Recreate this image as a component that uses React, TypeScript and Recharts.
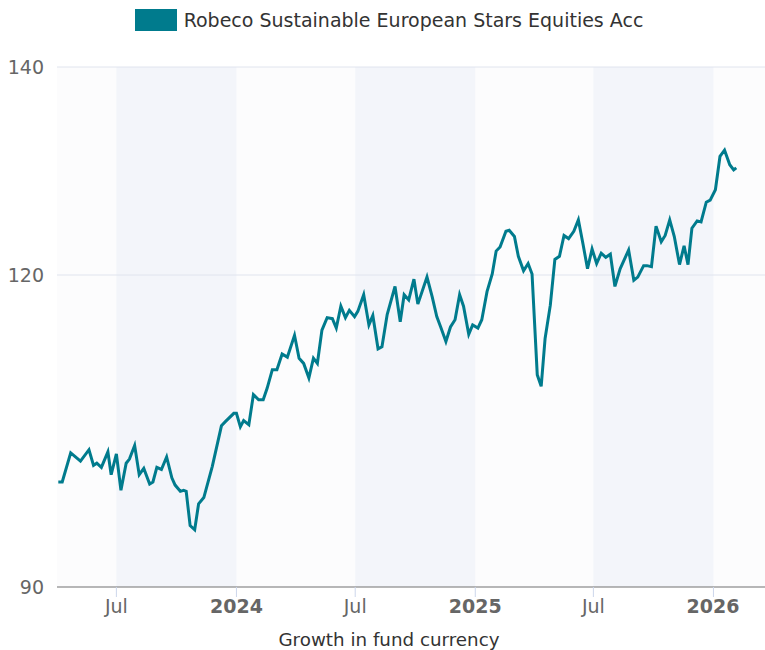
import {
  LineChart,
  Line,
  XAxis,
  YAxis,
  ReferenceArea,
  ReferenceLine,
  CartesianGrid,
  Legend,
} from "recharts";

const fundName = "Robeco Sustainable European Stars Equities Acc";

const dates = [
  "2023-04-03", "2023-04-09", "2023-04-22", "2023-05-07", "2023-05-20", "2023-05-27",
  "2023-06-01", "2023-06-08", "2023-06-18", "2023-06-23", "2023-07-01", "2023-07-08",
  "2023-07-16", "2023-07-21", "2023-07-29", "2023-08-05", "2023-08-12", "2023-08-21",
  "2023-08-26", "2023-09-01", "2023-09-08", "2023-09-16", "2023-09-24", "2023-09-29",
  "2023-10-07", "2023-10-12", "2023-10-16", "2023-10-22", "2023-10-29", "2023-11-04",
  "2023-11-12", "2023-11-25", "2023-12-09", "2023-12-15", "2023-12-28", "2024-01-01",
  "2024-01-07", "2024-01-12", "2024-01-20", "2024-01-27", "2024-02-04", "2024-02-11",
  "2024-02-17", "2024-02-25", "2024-03-03", "2024-03-11", "2024-03-19", "2024-03-30",
  "2024-04-06", "2024-04-13", "2024-04-21", "2024-04-28", "2024-05-04", "2024-05-11",
  "2024-05-19", "2024-05-27", "2024-06-02", "2024-06-09", "2024-06-16", "2024-06-22",
  "2024-06-30", "2024-07-05", "2024-07-14", "2024-07-22", "2024-07-28", "2024-08-05",
  "2024-08-11", "2024-08-19", "2024-08-31", "2024-09-08", "2024-09-14", "2024-09-21",
  "2024-09-29", "2024-10-05", "2024-10-19", "2024-10-27", "2024-11-03", "2024-11-09",
  "2024-11-17", "2024-11-24", "2024-12-01", "2024-12-08", "2024-12-14", "2024-12-22",
  "2024-12-28", "2025-01-05", "2025-01-11", "2025-01-19", "2025-01-27", "2025-02-02",
  "2025-02-08", "2025-02-17", "2025-02-22", "2025-03-02", "2025-03-08", "2025-03-16",
  "2025-03-23", "2025-03-29", "2025-04-06", "2025-04-12", "2025-04-18", "2025-04-26",
  "2025-05-03", "2025-05-10", "2025-05-17", "2025-05-24", "2025-06-01", "2025-06-08",
  "2025-06-15", "2025-06-22", "2025-06-29", "2025-07-06", "2025-07-13", "2025-07-20",
  "2025-07-27", "2025-08-03", "2025-08-11", "2025-08-24", "2025-09-01", "2025-09-07",
  "2025-09-16", "2025-09-21", "2025-09-28", "2025-10-05", "2025-10-13", "2025-10-19",
  "2025-10-26", "2025-11-02", "2025-11-10", "2025-11-17", "2025-11-23", "2025-11-29",
  "2025-12-07", "2025-12-13", "2025-12-21", "2025-12-27", "2026-01-04", "2026-01-11",
  "2026-01-18", "2026-01-26", "2026-02-01", "2026-02-05",
];

const growth = [
  100.1, 100.1, 102.9, 102.1, 103.2, 101.7,
  101.9, 101.5, 103.0, 100.8, 102.8, 99.3,
  101.9, 102.3, 103.6, 100.8, 101.4, 99.9,
  100.1, 101.5, 101.3, 102.5, 100.5, 99.8,
  99.2, 99.3, 99.2, 95.9, 95.5, 98.0,
  98.6, 101.6, 105.5, 105.9, 106.7, 106.7,
  105.4, 106.0, 105.6, 108.5, 108.0, 108.0,
  109.1, 110.9, 110.9, 112.4, 112.1, 114.2,
  112.0, 111.5, 110.1, 112.0, 111.5, 114.7,
  115.9, 115.8, 114.9, 117.0, 115.9, 116.6,
  116.0, 116.5, 118.1, 115.2, 116.1, 112.9,
  113.1, 116.2, 118.9, 115.5, 118.1, 117.6,
  119.6, 117.2, 119.8, 117.9, 116.0, 115.0,
  113.6, 115.0, 115.7, 118.1, 117.0, 114.3,
  115.2, 114.9, 115.7, 118.4, 120.1, 122.3,
  122.7, 124.2, 124.3, 123.7, 121.8, 120.4,
  121.1, 120.1, 110.4, 109.3, 113.9, 117.1,
  121.5, 121.8, 123.8, 123.5, 124.2, 125.3,
  123.0, 120.6, 122.5, 121.1, 122.1, 121.7,
  122.0, 118.9, 120.6, 122.4, 119.5, 119.8,
  120.9, 120.9, 120.8, 124.7, 123.2, 123.8,
  125.3, 123.7, 121.0, 122.8, 121.0, 124.5,
  125.2, 125.1, 127.0, 127.2, 128.2, 131.4,
  132.0, 130.6, 130.1, 130.3,
];

const tickDates = ["2023-07-01", "2024-01-01", "2024-07-01", "2025-01-01", "2025-07-01", "2026-01-01"];
const tickLabels = ["Jul", "2024", "Jul", "2025", "Jul", "2026"];
const bandStarts = ["2023-07-01", "2024-07-01", "2025-07-01"];
const bandEnds = ["2024-01-01", "2025-01-01", "2026-01-01"];
const yTicks = [90, 120, 140];
const xStart = "2023-04-01";
const xEnd = "2026-03-21";

const data = dates.map((d, i) => ({ t: Date.parse(d), value: growth[i] }));
const xTicks = tickDates.map((d) => Date.parse(d));

const TEAL = "#007b8d";
const FONT = "'DejaVu Sans', sans-serif";

function XTick(props: any) {
  const { x, y, payload } = props;
  const i = xTicks.indexOf(payload.value);
  const label = tickLabels[i] ?? "";
  const isYear = label !== "Jul";
  return (
    <text
      x={x}
      y={y}
      dy={14}
      textAnchor="middle"
      fill="#666666"
      fontSize={19}
      fontWeight={isYear ? "bold" : "normal"}
      fontFamily={FONT}
    >
      {label}
    </text>
  );
}

function LegendBox() {
  return (
    <div
      style={{
        display: "flex",
        alignItems: "center",
        justifyContent: "center",
        height: 40,
        paddingLeft: 13,
        fontFamily: FONT,
        fontSize: 19,
        color: "#333333",
      }}
    >
      <span
        style={{
          display: "inline-block",
          width: 42,
          height: 22,
          background: TEAL,
          marginRight: 7,
        }}
      />
      {fundName}
    </div>
  );
}

export default function App() {
  return (
    <div style={{ position: "absolute", left: 0, top: 0, fontFamily: FONT, background: "#fff" }}>
      <LineChart
        width={765}
        height={650}
        data={data}
        margin={{ top: 27, right: 0, bottom: 0, left: 0 }}
      >
        <Legend
          verticalAlign="top"
          align="center"
          content={() => <LegendBox />}
          wrapperStyle={{ top: 0, left: 0, width: 765, height: 40 }}
        />
        <CartesianGrid fill="#fcfcfd" horizontal={false} vertical={false} />
        {bandStarts.map((s, i) => (
          <ReferenceArea
            key={s}
            x1={Date.parse(s)}
            x2={Date.parse(bandEnds[i])}
            fill="#f3f5fa"
            fillOpacity={1}
            stroke="none"
          />
        ))}
        {yTicks
          .filter((v) => v !== 90)
          .map((v) => (
            <ReferenceLine key={v} y={v} stroke="#e0e4ee" strokeWidth={1} />
          ))}
        <XAxis
          dataKey="t"
          type="number"
          scale="time"
          domain={[Date.parse(xStart), Date.parse(xEnd)]}
          ticks={xTicks}
          tick={<XTick />}
          tickSize={10}
          tickLine={{ stroke: "#ccd6eb" }}
          axisLine={{ stroke: "#707070" }}
          height={63}
          label={{
            value: "Growth in fund currency",
            position: "insideBottom",
            offset: 4,
            dx: -22,
            fill: "#333333",
            fontSize: 18.3,
            fontFamily: FONT,
          }}
        />
        <YAxis
          type="number"
          domain={[90, 140]}
          ticks={yTicks}
          width={57}
          axisLine={false}
          tickLine={false}
          tickMargin={7}
          tick={{ fill: "#666666", fontSize: 19, fontFamily: FONT }}
        />
        <Line
          type="linear"
          dataKey="value"
          stroke={TEAL}
          strokeWidth={3}
          dot={false}
          isAnimationActive={false}
        />
      </LineChart>
    </div>
  );
}
